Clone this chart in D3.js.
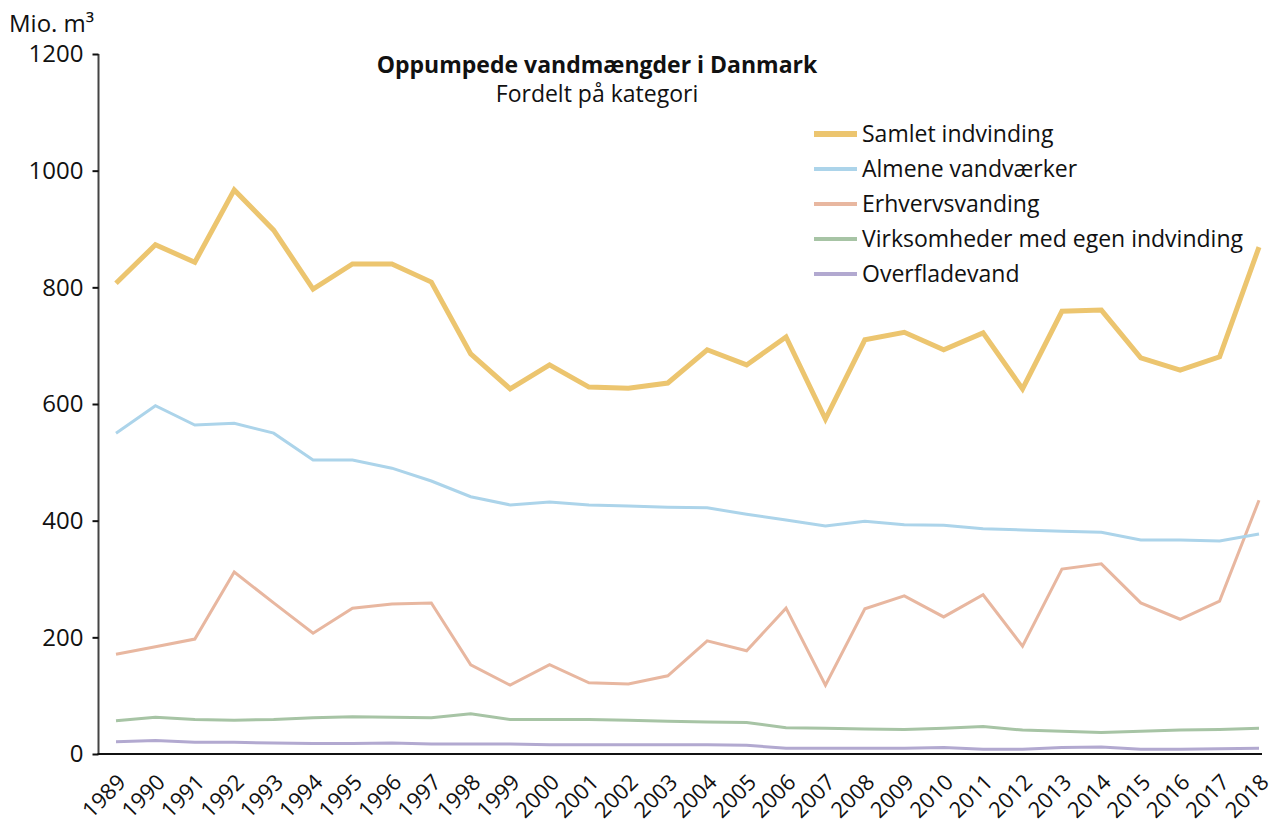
<!DOCTYPE html>
<html lang="da">
<head>
<meta charset="UTF-8">
<title>Oppumpede vandmængder i Danmark</title>
<script src="https://d3js.org/d3.v7.min.js"></script>
<style>
  body { margin: 0; background: #fff; font-family: "Open Sans", sans-serif; }
</style>
</head>
<body>
<div id="chart"></div>
<script>
// Data (Mio. m³)
const years = d3.range(1989, 2019);
const samlet = [807, 873, 843, 967, 898, 797, 840, 840, 809, 686, 626, 667, 629, 627, 636, 693, 667, 715, 574, 710, 723, 693, 722, 626, 759, 761, 679, 658, 681, 869];
const almene = [550, 597, 564, 567, 550, 504, 504, 490, 468, 441, 427, 432, 427, 425, 423, 422, 411, 401, 391, 399, 393, 392, 386, 384, 382, 380, 367, 367, 365, 377];
const erhverv = [171, 184, 197, 312, 259, 207, 250, 257, 259, 153, 118, 153, 122, 120, 134, 194, 177, 250, 118, 249, 271, 235, 273, 185, 317, 326, 259, 231, 262, 435];
const virksomheder = [57, 63, 59, 58, 59, 62, 64, 63, 62, 69, 59, 59, 59, 58, 56, 55, 54, 45, 44, 43, 42, 44, 47, 41, 39, 37, 39, 41, 42, 44];
const overflade = [21, 23, 20, 20, 19, 18, 18, 19, 17, 17, 17, 16, 16, 16, 16, 16, 15, 10, 10, 10, 10, 11, 8, 8, 11, 12, 8, 8, 9, 10];
const yTicks = [0, 200, 400, 600, 800, 1000, 1200];

const series = [
  { name: "Samlet indvinding", values: samlet, color: "#ecc56f", width: 5 },
  { name: "Almene vandværker", values: almene, color: "#acd4ea", width: 3 },
  { name: "Erhvervsvanding", values: erhverv, color: "#e8b7a0", width: 3 },
  { name: "Virksomheder med egen indvinding", values: virksomheder, color: "#a7c4a5", width: 3 },
  { name: "Overfladevand", values: overflade, color: "#b2a9d0", width: 3 }
];

const W = 1273, H = 826;
const svg = d3.select("#chart").append("svg")
  .attr("width", W).attr("height", H)
  .style("font-family", '"Open Sans", sans-serif');

const x = d3.scalePoint().domain(years).range([116, 1259]);
const y = d3.scaleLinear().domain([0, 1200]).range([754, 54]);

// Y axis
svg.append("g")
  .attr("transform", "translate(98.5,0)")
  .call(d3.axisLeft(y).tickValues(yTicks).tickSize(6).tickPadding(9).tickFormat(d3.format("d")))
  .call(g => g.select(".domain").attr("stroke", "#444").attr("stroke-width", 2).attr("d", `M0,${y(1200)}V${y(0)}`))
  .call(g => g.selectAll(".tick line").attr("stroke", "#111").attr("stroke-width", 2))
  .call(g => g.selectAll(".tick text").attr("font-size", 24).attr("fill", "#111").attr("font-family", '"Open Sans", sans-serif'));

// X axis, labels rotated 45°
svg.append("g")
  .attr("transform", `translate(0,${y(0)})`)
  .call(d3.axisBottom(x).tickSize(0).tickPadding(0))
  .call(g => g.select(".domain").attr("stroke", "#111").attr("stroke-width", 2).attr("d", `M97.5,0H1262`))
  .call(g => g.selectAll(".tick text")
    .style("font-size", "22px").attr("fill", "#111")
    .attr("font-family", '"Open Sans", sans-serif')
    .attr("text-anchor", "end")
    .attr("dy", 0).attr("y", 0)
    .attr("transform", "translate(-3,16) rotate(-45)")
    .attr("dominant-baseline", "hanging"));

// Unit label
svg.append("text").attr("x", 9).attr("y", 32)
  .attr("font-size", 24).attr("fill", "#111")
  .text("Mio. m³");

// Title
svg.append("text").attr("x", 597).attr("y", 73)
  .attr("text-anchor", "middle").attr("font-size", 23).attr("font-weight", "bold").attr("fill", "#111")
  .text("Oppumpede vandmængder i Danmark");
svg.append("text").attr("x", 597).attr("y", 102)
  .attr("text-anchor", "middle").attr("font-size", 23).attr("fill", "#111")
  .text("Fordelt på kategori");

// Lines
const line = d3.line().x((d, i) => x(years[i])).y(d => y(d)).curve(d3.curveLinear);
svg.append("g").selectAll("path")
  .data(series.slice().reverse())
  .join("path")
  .attr("d", d => line(d.values))
  .attr("fill", "none")
  .attr("stroke", d => d.color)
  .attr("stroke-width", d => d.width)
  .attr("stroke-linejoin", "miter");

// Legend
const legend = svg.append("g").attr("transform", "translate(814,134)");
const items = legend.selectAll("g").data(series).join("g")
  .attr("transform", (d, i) => `translate(0,${i * 35})`);
items.append("line")
  .attr("x1", 0).attr("x2", 43).attr("y1", 0).attr("y2", 0)
  .attr("stroke", d => d.color).attr("stroke-width", d => d.width + 1);
items.append("text")
  .attr("x", 48).attr("y", 0).attr("dy", "0.35em")
  .attr("font-size", 23).attr("fill", "#111")
  .text(d => d.name);
</script>
</body>
</html>
